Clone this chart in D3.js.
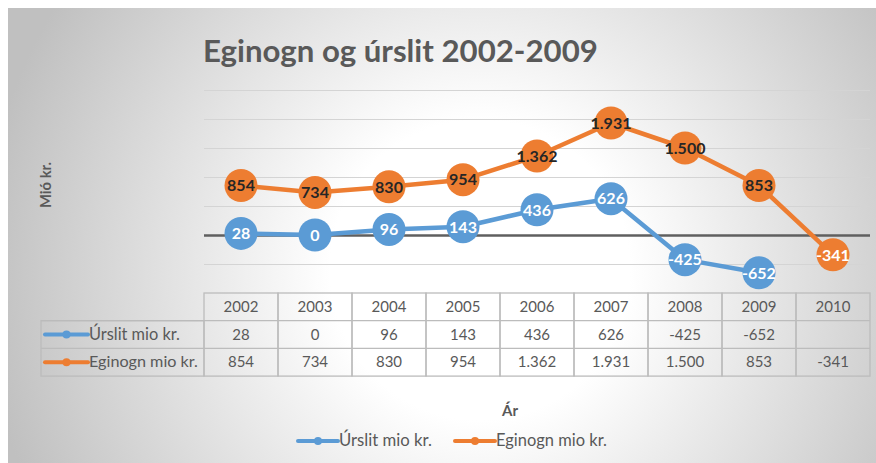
<!DOCTYPE html>
<html><head><meta charset="utf-8">
<script src="https://cdn.jsdelivr.net/npm/d3@7"></script>
<style>html,body{margin:0;padding:0;background:#fff;}svg{display:block;}</style>
</head><body>
<svg id="chart" width="876" height="463"></svg>
<script>
const years = ["2002","2003","2004","2005","2006","2007","2008","2009","2010"];
const urslit = [28, 0, 96, 143, 436, 626, -425, -652, null];
const eginogn = [854, 734, 830, 954, 1362, 1931, 1500, 853, -341];
const seriesNames = ["Úrslit mio kr.", "Eginogn mio kr."];
const yTicks = [-500, 0, 500, 1000, 1500, 2000, 2500];
const titleText = "Eginogn og úrslit 2002-2009";
const yTitle = "Mió kr.";
const xTitle = "Ár";

const fmt = v => v == null ? "" : d3.format(",")(v).replace(/,/g, ".").replace(/\u2212/g, "-");
const FONT = "Lato, 'Open Sans', sans-serif";
const colors = ["#5b9bd5", "#ed7d31"];
const textGray = "#595959";

const svg = d3.select("#chart");
const defs = svg.append("defs");
const grad = defs.append("radialGradient").attr("id","bg").attr("gradientUnits","userSpaceOnUse")
  .attr("cx",480).attr("cy",270).attr("r",500);
grad.append("stop").attr("offset","0").attr("stop-color","#ffffff");
grad.append("stop").attr("offset","0.3").attr("stop-color","#ffffff");
grad.append("stop").attr("offset","1").attr("stop-color","#c0c0c0");
svg.append("rect").attr("x",8).attr("y",8).attr("width",868).attr("height",455).attr("fill","url(#bg)");

const plotL = 204, plotR = 870, plotT = 90, plotB = 293;
const x = d3.scaleBand().domain(years).range([plotL, plotR]);
const y = d3.scaleLinear().domain([-1000, 2500]).range([plotB, plotT]);
const cx = d => x(d) + x.bandwidth()/2;

function fitText(sel, target) {
  const n = sel.node(); const w = n.getComputedTextLength();
  const fs = parseFloat(sel.attr("font-size"));
  sel.attr("font-size", fs * target / w);
}

// title
const t = svg.append("text").attr("x",203).attr("y",62).attr("font-family",FONT).attr("font-weight","bold")
  .attr("font-size",30).attr("fill",textGray).text(titleText);
fitText(t, 395);

// y title
const yt = svg.append("text").attr("transform","translate(51,185) rotate(-90)").attr("text-anchor","middle")
  .attr("font-family",FONT).attr("font-weight","bold").attr("font-size",14).attr("fill",textGray).text(yTitle);
fitText(yt, 46);

// gridlines via axis
const gAxis = svg.append("g").attr("transform",`translate(${plotL},0)`)
  .call(d3.axisLeft(y).tickValues(yTicks).tickSize(-(plotR-plotL)).tickFormat(""));
gAxis.select(".domain").remove();
gAxis.selectAll(".tick line").attr("stroke", d => d === 0 ? "#5f5f5f" : "#d4d4d4")
  .attr("stroke-width", d => d === 0 ? 2.5 : 1.2);
gAxis.selectAll(".tick").filter(d => d === 0).raise();

// lines & markers
const series = [urslit, eginogn];
series.forEach((vals, si) => {
  const pts = years.map((yr, i) => ({yr, v: vals[i]})).filter(p => p.v != null);
  const line = d3.line().x(p => cx(p.yr)).y(p => y(p.v));
  svg.append("path").datum(pts).attr("d", line).attr("fill","none")
    .attr("stroke", colors[si]).attr("stroke-width",4.5).attr("stroke-linejoin","round");
  const g = svg.append("g");
  g.selectAll("circle").data(pts).join("circle").attr("cx", p => cx(p.yr)).attr("cy", p => y(p.v))
    .attr("r",16.5).attr("fill", colors[si]);
  g.selectAll("text").data(pts).join("text").attr("x", p => cx(p.yr)).attr("y", p => y(p.v)+5.8)
    .attr("text-anchor","middle").attr("font-family",FONT).attr("font-weight","bold").attr("font-size",16)
    .attr("fill", p => (si === 0 || p.v < 0) ? "#ffffff" : "#262626").text(p => fmt(p.v));
});

// data table
const rowTop = 293, rowH = 27.7, legLeft = 41;
const tg = svg.append("g");
const bc = "#bcbcbc";
years.forEach((yr, i) => {
  tg.append("rect").attr("x", x(yr)).attr("y", rowTop).attr("width", x.bandwidth()).attr("height", rowH*3)
    .attr("fill","none").attr("stroke",bc).attr("stroke-width",1.3);
  tg.append("text").attr("x", cx(yr)).attr("y", rowTop + rowH/2 + 5).attr("text-anchor","middle")
    .attr("font-family",FONT).attr("font-size",15).attr("fill",textGray).text(yr);
});
[1,2].forEach(r => {
  tg.append("line").attr("x1", legLeft).attr("x2", plotR).attr("y1", rowTop + rowH*r).attr("y2", rowTop + rowH*r)
    .attr("stroke",bc).attr("stroke-width",1.3);
});
tg.append("rect").attr("x", legLeft).attr("y", rowTop+rowH).attr("width", plotL-legLeft).attr("height", rowH*2)
  .attr("fill","none").attr("stroke",bc).attr("stroke-width",1.3);
series.forEach((vals, si) => {
  const ry = rowTop + rowH*(si+1);
  tg.append("line").attr("x1",45).attr("x2",88).attr("y1",ry+rowH/2).attr("y2",ry+rowH/2)
    .attr("stroke",colors[si]).attr("stroke-width",4).attr("stroke-linecap","round");
  tg.append("circle").attr("cx",66.5).attr("cy",ry+rowH/2).attr("r",4).attr("fill",colors[si]);
  const lt = tg.append("text").attr("x",89).attr("y",ry+rowH/2+5).attr("font-family",FONT).attr("font-size",14.5)
    .attr("fill",textGray).text(seriesNames[si]);
  fitText(lt, si === 0 ? 91 : 109);
  years.forEach((yr, i) => {
    tg.append("text").attr("x", cx(yr)).attr("y", ry + rowH/2 + 5).attr("text-anchor","middle")
      .attr("font-family",FONT).attr("font-size",15).attr("fill",textGray).text(fmt(vals[i]));
  });
});

// x title
svg.append("text").attr("x",510).attr("y",416).attr("text-anchor","middle").attr("font-family",FONT)
  .attr("font-weight","bold").attr("font-size",15).attr("fill",textGray).text(xTitle);

// legend
const legX = [298, 455];
seriesNames.forEach((nm, si) => {
  const lx = legX[si], ly = 441;
  svg.append("line").attr("x1",lx).attr("x2",lx+40).attr("y1",ly).attr("y2",ly)
    .attr("stroke",colors[si]).attr("stroke-width",4).attr("stroke-linecap","round");
  svg.append("circle").attr("cx",lx+20).attr("cy",ly).attr("r",4).attr("fill",colors[si]);
  const lt = svg.append("text").attr("x",lx+41).attr("y",ly+5).attr("font-family",FONT).attr("font-size",15)
    .attr("fill",textGray).text(nm);
  fitText(lt, si === 0 ? 93 : 111);
});
</script>
</body></html>
